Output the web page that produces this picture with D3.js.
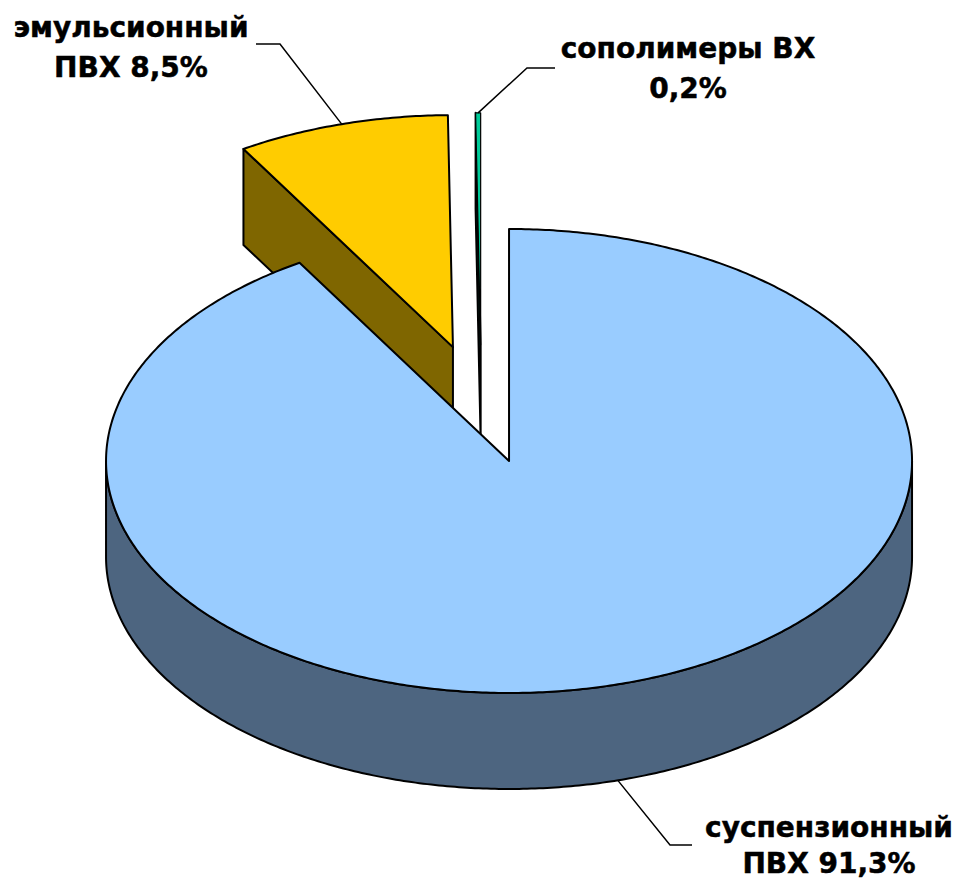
<!DOCTYPE html>
<html>
<head>
<meta charset="utf-8">
<script src="https://cdn.jsdelivr.net/npm/d3@7"></script>
<style>
  body { margin: 0; background: #fff; }
  text { font-family: "DejaVu Sans", Verdana, sans-serif; font-weight: bold; fill: #000; stroke: #000; stroke-width: 0.5px; }
</style>
</head>
<body>
<div id="container"></div>
<script>
// data
let names = ["суспензионный", "эмульсионный", "сополимеры ВХ"];
let prefixes = ["ПВХ ", "ПВХ ", ""];
let values = [91.3, 8.5, 0.2];
let topColors = ["#99ccff", "#ffcc00", "#00cc99"];
let sideColors = ["#4d6580", "#7f6600", "#006650"];

let w = 957;
let h = 885;

let viz = d3.select("#container")
  .append("svg")
    .attr("width", w)
    .attr("height", h)
;

// 3d pie geometry
let rx = 403;
let ry = 232;
let depth = 96;
let explode = 0.255;
let base = {x: 481.3, y: 404};

let pie = d3.pie().sort(null).startAngle(0).endAngle(2 * Math.PI);
let arcs = pie(values);

// radius in pie units -> ellipse
let rScale = d3.scaleLinear().domain([0, 1]).range([0, 1]);

arcs.forEach(function(d, i){
  let mid = (d.startAngle + d.endAngle) / 2;
  d.name = names[i];
  d.i = i;
  d.mid = mid;
  d.c = {
    x: base.x + explode * rx * Math.sin(mid),
    y: base.y - explode * ry * Math.cos(mid)
  };
});

function pt(c, a, r, dz){
  return [c.x + rScale(r) * rx * Math.sin(a), c.y - rScale(r) * ry * Math.cos(a) + dz];
}

function rim(c, a0, a1, dz){
  let n = Math.max(2, Math.ceil((a1 - a0) / 0.01));
  return d3.range(n + 1).map(function(k){
    return pt(c, a0 + (a1 - a0) * k / n, 1, dz);
  });
}

let line = d3.line();

let graphGroup = viz.append("g").classed("graphGroup", true);

// back slices first, the big one last
let order = [1, 2, 0];

order.forEach(function(i){
  let d = arcs[i];
  let g = graphGroup.append("g").classed("slice", true);

  // outer wall, front half only
  let lo = Math.max(d.startAngle, Math.PI / 2);
  let hi = Math.min(d.endAngle, 3 * Math.PI / 2);
  if (lo < hi){
    let pts = rim(d.c, lo, hi, 0).concat(rim(d.c, lo, hi, depth).reverse());
    g.append("path")
      .attr("d", line(pts) + "Z")
      .attr("fill", sideColors[i])
      .attr("stroke", "#000")
      .attr("stroke-width", 2)
      .attr("stroke-linejoin", "round")
    ;
  }

  // cut faces that look towards us
  [[d.startAngle, -1], [d.endAngle, 1]].forEach(function(f){
    if (f[1] * Math.sin(f[0]) > 1e-6){
      let pts = [pt(d.c, f[0], 0, 0), pt(d.c, f[0], 1, 0), pt(d.c, f[0], 1, depth), pt(d.c, f[0], 0, depth)];
      g.append("path")
        .attr("d", line(pts) + "Z")
        .attr("fill", sideColors[i])
        .attr("stroke", "#000")
        .attr("stroke-width", 2)
        .attr("stroke-linejoin", "round")
      ;
    }
  });

  // top
  let topPts = [[d.c.x, d.c.y]].concat(rim(d.c, d.startAngle, d.endAngle, 0));
  g.append("path")
    .attr("d", line(topPts) + "Z")
    .attr("fill", topColors[i])
    .attr("stroke", "#000")
    .attr("stroke-width", i == 2 ? 1.2 : 2)
    .attr("stroke-linejoin", "round")
  ;
});

// labels with leader lines
let labelPos = [
  {x: 829, y1: 837, y2: 873, elbow: [670, 845], end: [692, 845], bottom: true},
  {x: 131, y1: 37, y2: 77, elbow: [280, 44], end: [256, 44], bottom: false},
  {x: 688, y1: 58, y2: 98, elbow: [527, 68], end: [555, 68], bottom: false}
];

let labelGroup = viz.append("g").classed("labels", true);

arcs.forEach(function(d, i){
  let p = labelPos[i];
  let anchor = pt(d.c, d.mid, 1, p.bottom ? depth : 0);
  labelGroup.append("path")
    .attr("d", line([anchor, p.elbow, p.end]))
    .attr("fill", "none")
    .attr("stroke", "#000")
    .attr("stroke-width", 1.5)
  ;
  labelGroup.append("text")
    .attr("x", p.x)
    .attr("y", p.y1)
    .attr("text-anchor", "middle")
    .attr("font-size", 28)
    .text(d.name)
  ;
  labelGroup.append("text")
    .attr("x", p.x)
    .attr("y", p.y2)
    .attr("text-anchor", "middle")
    .attr("font-size", 28)
    .text(prefixes[i] + String(d.value).replace(".", ",") + "%")
  ;
});
</script>
</body>
</html>
